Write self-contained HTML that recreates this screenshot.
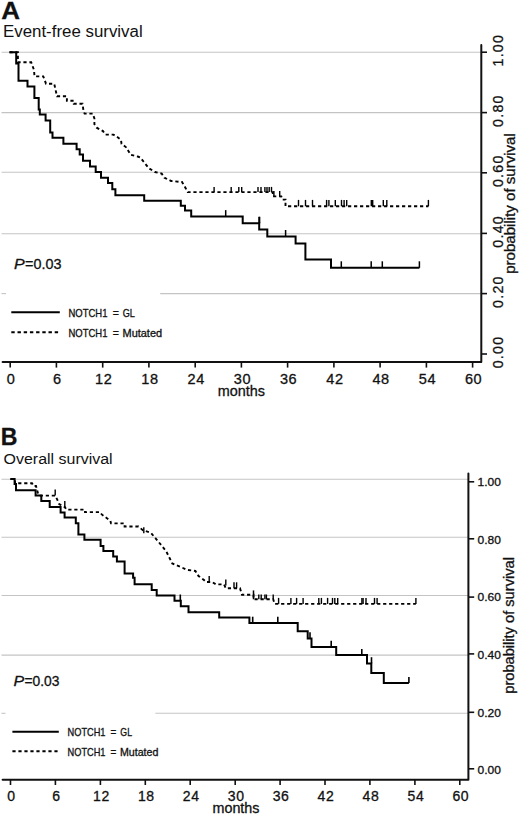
<!DOCTYPE html>
<html><head><meta charset="utf-8"><style>
html,body{margin:0;padding:0;background:#fff;}
svg{display:block;}
text{font-family:"Liberation Sans",sans-serif;fill:#111;stroke:#111;stroke-width:0.3px;}
</style></head><body>
<svg width="520" height="816" viewBox="0 0 520 816">
<text x="1.35" y="18.7" font-size="24.8" textLength="18.76" lengthAdjust="spacingAndGlyphs" font-weight="bold">A</text>
<text x="2.95" y="37.0" font-size="15.8" textLength="139.76" lengthAdjust="spacingAndGlyphs" style="stroke:none">Event-free survival</text>
<line x1="1.5" y1="52.2" x2="481" y2="52.2" stroke="#c4c4c4" stroke-width="1.1"/>
<line x1="1.5" y1="112.6" x2="481" y2="112.6" stroke="#c4c4c4" stroke-width="1.1"/>
<line x1="1.5" y1="172.3" x2="481" y2="172.3" stroke="#c4c4c4" stroke-width="1.1"/>
<line x1="1.5" y1="233.7" x2="481" y2="233.7" stroke="#c4c4c4" stroke-width="1.1"/>
<line x1="1.5" y1="293.6" x2="6" y2="293.6" stroke="#c4c4c4" stroke-width="1.1"/>
<line x1="160.2" y1="293.6" x2="481" y2="293.6" stroke="#c4c4c4" stroke-width="1.1"/>
<path d="M2.6 362 H481.3 V45.1" fill="none" stroke="#111" stroke-width="2" stroke-linejoin="round" stroke-linecap="round"/>
<line x1="10.2" y1="362" x2="10.2" y2="367.6" stroke="#111" stroke-width="1.6"/>
<text x="11.2" y="383.5" font-size="14.5" text-anchor="middle" letter-spacing="0.6">0</text>
<line x1="56.4" y1="362" x2="56.4" y2="367.6" stroke="#111" stroke-width="1.6"/>
<text x="57.4" y="383.5" font-size="14.5" text-anchor="middle" letter-spacing="0.6">6</text>
<line x1="102.7" y1="362" x2="102.7" y2="367.6" stroke="#111" stroke-width="1.6"/>
<text x="103.7" y="383.5" font-size="14.5" text-anchor="middle" letter-spacing="0.6">12</text>
<line x1="148.9" y1="362" x2="148.9" y2="367.6" stroke="#111" stroke-width="1.6"/>
<text x="149.9" y="383.5" font-size="14.5" text-anchor="middle" letter-spacing="0.6">18</text>
<line x1="195.2" y1="362" x2="195.2" y2="367.6" stroke="#111" stroke-width="1.6"/>
<text x="196.2" y="383.5" font-size="14.5" text-anchor="middle" letter-spacing="0.6">24</text>
<line x1="241.4" y1="362" x2="241.4" y2="367.6" stroke="#111" stroke-width="1.6"/>
<text x="242.4" y="383.5" font-size="14.5" text-anchor="middle" letter-spacing="0.6">30</text>
<line x1="287.6" y1="362" x2="287.6" y2="367.6" stroke="#111" stroke-width="1.6"/>
<text x="288.6" y="383.5" font-size="14.5" text-anchor="middle" letter-spacing="0.6">36</text>
<line x1="333.9" y1="362" x2="333.9" y2="367.6" stroke="#111" stroke-width="1.6"/>
<text x="334.9" y="383.5" font-size="14.5" text-anchor="middle" letter-spacing="0.6">42</text>
<line x1="380.1" y1="362" x2="380.1" y2="367.6" stroke="#111" stroke-width="1.6"/>
<text x="381.1" y="383.5" font-size="14.5" text-anchor="middle" letter-spacing="0.6">48</text>
<line x1="426.4" y1="362" x2="426.4" y2="367.6" stroke="#111" stroke-width="1.6"/>
<text x="427.4" y="383.5" font-size="14.5" text-anchor="middle" letter-spacing="0.6">54</text>
<line x1="472.6" y1="362" x2="472.6" y2="367.6" stroke="#111" stroke-width="1.6"/>
<text x="473.6" y="383.5" font-size="14.5" text-anchor="middle" letter-spacing="0.6">60</text>
<text x="241.4" y="396" font-size="14.5" text-anchor="middle" textLength="47.3" lengthAdjust="spacingAndGlyphs">months</text>
<line x1="481.3" y1="52.2" x2="487" y2="52.2" stroke="#111" stroke-width="1.6"/>
<text transform="translate(502.8 66.5) rotate(-90)" font-size="14.2" textLength="31.4" lengthAdjust="spacing">1.00</text>
<line x1="481.3" y1="112.6" x2="487" y2="112.6" stroke="#111" stroke-width="1.6"/>
<text transform="translate(502.8 126.9) rotate(-90)" font-size="14.2" textLength="31.4" lengthAdjust="spacing">0.80</text>
<line x1="481.3" y1="172.8" x2="487" y2="172.8" stroke="#111" stroke-width="1.6"/>
<text transform="translate(502.8 187.1) rotate(-90)" font-size="14.2" textLength="31.4" lengthAdjust="spacing">0.60</text>
<line x1="481.3" y1="233.4" x2="487" y2="233.4" stroke="#111" stroke-width="1.6"/>
<text transform="translate(502.8 247.7) rotate(-90)" font-size="14.2" textLength="31.4" lengthAdjust="spacing">0.40</text>
<line x1="481.3" y1="293.6" x2="487" y2="293.6" stroke="#111" stroke-width="1.6"/>
<text transform="translate(502.8 307.9) rotate(-90)" font-size="14.2" textLength="31.4" lengthAdjust="spacing">0.20</text>
<line x1="481.3" y1="354" x2="487" y2="354" stroke="#111" stroke-width="1.6"/>
<text transform="translate(502.8 368.3) rotate(-90)" font-size="14.2" textLength="31.4" lengthAdjust="spacing">0.00</text>
<text transform="translate(515 203.5) rotate(-90)" font-size="14" text-anchor="middle" textLength="140.6" lengthAdjust="spacingAndGlyphs">probability of survival</text>
<text x="14.12" y="268.8" font-size="14.1" textLength="10.69" lengthAdjust="spacingAndGlyphs" font-style="italic">P</text>
<text x="25.08" y="268.8" font-size="14.1" textLength="36.37" lengthAdjust="spacingAndGlyphs" >=0.03</text>
<line x1="11.3" y1="312.3" x2="59.8" y2="312.3" stroke="#000" stroke-width="2"/>
<line x1="11.3" y1="332.2" x2="59.8" y2="332.2" stroke="#000" stroke-width="2" stroke-dasharray="3.4 2.8"/>
<text x="68.54" y="317.1" font-size="10.2" textLength="38.94" lengthAdjust="spacingAndGlyphs" >NOTCH1</text>
<text x="112.67" y="317.1" font-size="10.2" textLength="6.14" lengthAdjust="spacingAndGlyphs" >=</text>
<text x="68.54" y="337.0" font-size="10.2" textLength="38.94" lengthAdjust="spacingAndGlyphs" >NOTCH1</text>
<text x="112.67" y="337.0" font-size="10.2" textLength="6.14" lengthAdjust="spacingAndGlyphs" >=</text>
<text x="122.64" y="317.1" font-size="10.2" textLength="12.17" lengthAdjust="spacingAndGlyphs" >GL</text>
<text x="122.52" y="337.0" font-size="10.2" textLength="39.57" lengthAdjust="spacingAndGlyphs" >Mutated</text>
<polyline points="9.5,52.2 16.2,52.2 16.2,63.5 18.5,63.5 18.5,80.8 27.5,80.8 27.5,86.6 34.4,86.6 34.4,97.9 38.7,97.9 38.7,109.4 39.8,109.4 39.8,114.6 45.6,114.6 45.6,120.4 50.2,120.4 50.2,132.5 52.5,132.5 52.5,137.7 63.4,137.7 63.4,143.8 76.6,143.8 76.6,149.2 79.7,149.2 79.7,154.6 83.0,154.6 83.0,160.8 90.0,160.8 90.0,166.5 95.7,166.5 95.7,172.0 101.0,172.0 101.0,177.7 108.0,177.7 108.0,183.0 112.3,183.0 112.3,189.2 115.4,189.2 115.4,195.2 144.2,195.2 144.2,200.8 180.8,200.8 180.8,205.8 185.0,205.8 185.0,210.5 191.2,210.5 191.2,216.6 242.7,216.6 242.7,223.3 259.2,223.3 259.2,229.5 267.3,229.5 267.3,236.5 295.6,236.5 295.6,243.5 305.4,243.5 305.4,259.5 331.0,259.5 331.0,267.8 419.4,267.8" fill="none" stroke="#000" stroke-width="2"/>
<line x1="225.7" y1="216.6" x2="225.7" y2="210.1" stroke="#000" stroke-width="1.5"/>
<line x1="259.0" y1="223.3" x2="259.0" y2="216.8" stroke="#000" stroke-width="1.5"/>
<line x1="259.6" y1="223.3" x2="259.6" y2="216.8" stroke="#000" stroke-width="1.5"/>
<line x1="285.6" y1="236.5" x2="285.6" y2="230.0" stroke="#000" stroke-width="1.5"/>
<line x1="341.3" y1="267.8" x2="341.3" y2="261.3" stroke="#000" stroke-width="1.5"/>
<line x1="371.2" y1="267.8" x2="371.2" y2="261.3" stroke="#000" stroke-width="1.5"/>
<line x1="382.3" y1="267.8" x2="382.3" y2="261.3" stroke="#000" stroke-width="1.5"/>
<line x1="419.4" y1="267.8" x2="419.4" y2="261.3" stroke="#000" stroke-width="1.5"/>
<polyline points="9.5,52.2 17.9,52.2 17.9,62.3 31.2,62.3 34.0,70.0 34.5,76.4 43.3,76.4 46.0,83.7 54.2,83.7 57.0,96.3 66.9,96.3 66.9,100.8 73.8,100.8 73.8,103.7 82.5,103.7 83.5,111.0 84.6,113.6 92.7,113.6 94.4,118.5 94.4,124.2 96.7,127.7 103.0,131.1 105.4,134.6 113.4,134.6 118.0,137.5 121.0,139.8 121.5,143.8 126.1,147.3 129.0,151.9 130.7,154.8 137.7,156.5 140.2,157.5 148.9,168.3 155.0,172.0 161.7,173.6 164.4,177.7 171.1,181.0 182.0,182.0 185.4,187.7 187.7,192.1 272.8,192.1 272.8,196.4 281.3,196.4 282.3,199.6 285.5,199.6 285.5,206.3 428.4,206.3" fill="none" stroke="#000" stroke-width="1.9" stroke-dasharray="3.2 2.8"/>
<line x1="214.1" y1="192.1" x2="214.1" y2="186.9" stroke="#000" stroke-width="1.4"/>
<line x1="231.2" y1="192.1" x2="231.2" y2="186.9" stroke="#000" stroke-width="1.4"/>
<line x1="238.8" y1="192.1" x2="238.8" y2="186.9" stroke="#000" stroke-width="1.4"/>
<line x1="241.7" y1="192.1" x2="241.7" y2="186.9" stroke="#000" stroke-width="1.4"/>
<line x1="258" y1="192.1" x2="258" y2="186.9" stroke="#000" stroke-width="1.4"/>
<line x1="261" y1="192.1" x2="261" y2="186.9" stroke="#000" stroke-width="1.4"/>
<line x1="264.9" y1="192.1" x2="264.9" y2="186.9" stroke="#000" stroke-width="1.4"/>
<line x1="267" y1="192.1" x2="267" y2="186.9" stroke="#000" stroke-width="1.4"/>
<line x1="269.2" y1="192.1" x2="269.2" y2="186.9" stroke="#000" stroke-width="1.4"/>
<line x1="271.5" y1="192.1" x2="271.5" y2="186.9" stroke="#000" stroke-width="1.4"/>
<line x1="273.9" y1="196.4" x2="273.9" y2="191.0" stroke="#000" stroke-width="1.4"/>
<line x1="279.7" y1="196.4" x2="279.7" y2="191.0" stroke="#000" stroke-width="1.4"/>
<line x1="298.5" y1="206.3" x2="298.5" y2="199.9" stroke="#000" stroke-width="1.4"/>
<line x1="305.5" y1="206.3" x2="305.5" y2="199.9" stroke="#000" stroke-width="1.4"/>
<line x1="312.5" y1="206.3" x2="312.5" y2="199.9" stroke="#000" stroke-width="1.4"/>
<line x1="326.6" y1="206.3" x2="326.6" y2="199.9" stroke="#000" stroke-width="1.4"/>
<line x1="328.9" y1="206.3" x2="328.9" y2="199.9" stroke="#000" stroke-width="1.4"/>
<line x1="335.3" y1="206.3" x2="335.3" y2="199.9" stroke="#000" stroke-width="1.4"/>
<line x1="341.5" y1="206.3" x2="341.5" y2="199.9" stroke="#000" stroke-width="1.4"/>
<line x1="344.1" y1="206.3" x2="344.1" y2="199.9" stroke="#000" stroke-width="1.4"/>
<line x1="346.7" y1="206.3" x2="346.7" y2="199.9" stroke="#000" stroke-width="1.4"/>
<line x1="371.3" y1="206.3" x2="371.3" y2="199.9" stroke="#000" stroke-width="1.4"/>
<line x1="372.7" y1="206.3" x2="372.7" y2="199.9" stroke="#000" stroke-width="1.4"/>
<line x1="383.3" y1="206.3" x2="383.3" y2="199.9" stroke="#000" stroke-width="1.4"/>
<line x1="386.8" y1="206.3" x2="386.8" y2="199.9" stroke="#000" stroke-width="1.4"/>
<line x1="428.4" y1="206.3" x2="428.4" y2="199.9" stroke="#000" stroke-width="1.4"/>
<text x="0.80" y="444.7" font-size="23.6" textLength="16.69" lengthAdjust="spacingAndGlyphs" font-weight="bold">B</text>
<text x="3.58" y="464.1" font-size="15.2" textLength="109.06" lengthAdjust="spacingAndGlyphs" style="stroke:none">Overall survival</text>
<line x1="1.5" y1="479.2" x2="468" y2="479.2" stroke="#c4c4c4" stroke-width="1.1"/>
<line x1="1.5" y1="537.2" x2="468" y2="537.2" stroke="#c4c4c4" stroke-width="1.1"/>
<line x1="1.5" y1="595.5" x2="468" y2="595.5" stroke="#c4c4c4" stroke-width="1.1"/>
<line x1="1.5" y1="655.1" x2="468" y2="655.1" stroke="#c4c4c4" stroke-width="1.1"/>
<line x1="1.5" y1="713.3" x2="5.5" y2="713.3" stroke="#c4c4c4" stroke-width="1.1"/>
<line x1="155.4" y1="713.3" x2="468" y2="713.3" stroke="#c4c4c4" stroke-width="1.1"/>
<path d="M2.6 779.8 H468.4 V473.6" fill="none" stroke="#111" stroke-width="2" stroke-linejoin="round" stroke-linecap="round"/>
<line x1="10.5" y1="779.8" x2="10.5" y2="785" stroke="#111" stroke-width="1.6"/>
<text x="11.5" y="800.9" font-size="14" text-anchor="middle" letter-spacing="0.6">0</text>
<line x1="55.4" y1="779.8" x2="55.4" y2="785" stroke="#111" stroke-width="1.6"/>
<text x="56.4" y="800.9" font-size="14" text-anchor="middle" letter-spacing="0.6">6</text>
<line x1="100.4" y1="779.8" x2="100.4" y2="785" stroke="#111" stroke-width="1.6"/>
<text x="101.4" y="800.9" font-size="14" text-anchor="middle" letter-spacing="0.6">12</text>
<line x1="145.3" y1="779.8" x2="145.3" y2="785" stroke="#111" stroke-width="1.6"/>
<text x="146.3" y="800.9" font-size="14" text-anchor="middle" letter-spacing="0.6">18</text>
<line x1="190.2" y1="779.8" x2="190.2" y2="785" stroke="#111" stroke-width="1.6"/>
<text x="191.2" y="800.9" font-size="14" text-anchor="middle" letter-spacing="0.6">24</text>
<line x1="235.2" y1="779.8" x2="235.2" y2="785" stroke="#111" stroke-width="1.6"/>
<text x="236.2" y="800.9" font-size="14" text-anchor="middle" letter-spacing="0.6">30</text>
<line x1="280.1" y1="779.8" x2="280.1" y2="785" stroke="#111" stroke-width="1.6"/>
<text x="281.1" y="800.9" font-size="14" text-anchor="middle" letter-spacing="0.6">36</text>
<line x1="325.0" y1="779.8" x2="325.0" y2="785" stroke="#111" stroke-width="1.6"/>
<text x="326.0" y="800.9" font-size="14" text-anchor="middle" letter-spacing="0.6">42</text>
<line x1="369.9" y1="779.8" x2="369.9" y2="785" stroke="#111" stroke-width="1.6"/>
<text x="370.9" y="800.9" font-size="14" text-anchor="middle" letter-spacing="0.6">48</text>
<line x1="414.9" y1="779.8" x2="414.9" y2="785" stroke="#111" stroke-width="1.6"/>
<text x="415.9" y="800.9" font-size="14" text-anchor="middle" letter-spacing="0.6">54</text>
<line x1="459.8" y1="779.8" x2="459.8" y2="785" stroke="#111" stroke-width="1.6"/>
<text x="460.8" y="800.9" font-size="14" text-anchor="middle" letter-spacing="0.6">60</text>
<text x="236" y="813" font-size="14" text-anchor="middle" textLength="47" lengthAdjust="spacingAndGlyphs">months</text>
<line x1="468.4" y1="481.8" x2="474.2" y2="481.8" stroke="#111" stroke-width="1.6"/>
<text x="477.6" y="485.6" font-size="11.2" textLength="23.4" lengthAdjust="spacingAndGlyphs">1.00</text>
<line x1="468.4" y1="538.8" x2="474.2" y2="538.8" stroke="#111" stroke-width="1.6"/>
<text x="477.6" y="544.1" font-size="11.2" textLength="23.4" lengthAdjust="spacingAndGlyphs">0.80</text>
<line x1="468.4" y1="597.1" x2="474.2" y2="597.1" stroke="#111" stroke-width="1.6"/>
<text x="477.6" y="601.1" font-size="11.2" textLength="23.4" lengthAdjust="spacingAndGlyphs">0.60</text>
<line x1="468.4" y1="653.9" x2="474.2" y2="653.9" stroke="#111" stroke-width="1.6"/>
<text x="477.6" y="659.3" font-size="11.2" textLength="23.4" lengthAdjust="spacingAndGlyphs">0.40</text>
<line x1="468.4" y1="712.3" x2="474.2" y2="712.3" stroke="#111" stroke-width="1.6"/>
<text x="477.6" y="716.5" font-size="11.2" textLength="23.4" lengthAdjust="spacingAndGlyphs">0.20</text>
<line x1="468.4" y1="768.8" x2="474.2" y2="768.8" stroke="#111" stroke-width="1.6"/>
<text x="477.6" y="773.6" font-size="11.2" textLength="23.4" lengthAdjust="spacingAndGlyphs">0.00</text>
<text transform="translate(514.3 625.4) rotate(-90)" font-size="14" text-anchor="middle" textLength="136.6" lengthAdjust="spacingAndGlyphs">probability of survival</text>
<text x="13.42" y="685.5" font-size="14.2" textLength="10.69" lengthAdjust="spacingAndGlyphs" font-style="italic">P</text>
<text x="24.41" y="685.5" font-size="14.2" textLength="34.92" lengthAdjust="spacingAndGlyphs" >=0.03</text>
<line x1="12.4" y1="731.7" x2="58.8" y2="731.7" stroke="#000" stroke-width="2"/>
<line x1="12.4" y1="751.3" x2="58.8" y2="751.3" stroke="#000" stroke-width="2" stroke-dasharray="3.2 2.8"/>
<text x="67.56" y="736.2" font-size="10.2" textLength="37.91" lengthAdjust="spacingAndGlyphs" >NOTCH1</text>
<text x="110.51" y="736.2" font-size="10.2" textLength="5.78" lengthAdjust="spacingAndGlyphs" >=</text>
<text x="67.56" y="755.7" font-size="10.2" textLength="37.91" lengthAdjust="spacingAndGlyphs" >NOTCH1</text>
<text x="110.51" y="755.7" font-size="10.2" textLength="5.78" lengthAdjust="spacingAndGlyphs" >=</text>
<text x="120.36" y="736.2" font-size="10.2" textLength="11.63" lengthAdjust="spacingAndGlyphs" >GL</text>
<text x="119.95" y="755.7" font-size="10.2" textLength="38.42" lengthAdjust="spacingAndGlyphs" >Mutated</text>
<polyline points="10.4,479.1 14.6,479.1 14.6,484.0 16.0,484.0 16.0,490.2 35.6,490.2 35.6,495.4 41.3,495.4 41.3,500.9 49.7,500.9 49.7,506.9 60.6,506.9 60.6,512.4 64.6,512.4 64.6,517.6 75.8,517.6 75.8,523.3 78.4,523.3 78.4,534.4 84.4,534.4 84.4,539.8 100.6,539.8 100.6,545.9 103.4,545.9 103.4,550.9 113.2,550.9 113.2,556.6 116.9,556.6 116.9,561.5 124.6,561.5 124.6,573.5 133.1,573.5 133.1,577.7 134.6,577.7 134.6,584.3 151.7,584.3 151.7,590.1 156.7,590.1 156.7,595.5 174.5,595.5 174.5,600.7 180.8,600.7 180.8,606.2 188.5,606.2 188.5,612.2 219.2,612.2 219.2,617.4 249.4,617.4 249.4,622.9 297.7,622.9 297.7,631.2 307.7,631.2 307.7,638.5 311.5,638.5 311.5,646.9 336.2,646.9 336.2,655.1 367.0,655.1 367.0,663.4 371.3,663.4 371.3,673.1 383.8,673.1 383.8,683.1 408.9,683.1" fill="none" stroke="#000" stroke-width="2"/>
<line x1="180.3" y1="600.7" x2="180.3" y2="594.5" stroke="#000" stroke-width="1.6"/>
<line x1="252.7" y1="622.9" x2="252.7" y2="616.6999999999999" stroke="#000" stroke-width="1.6"/>
<line x1="277.8" y1="622.9" x2="277.8" y2="616.6999999999999" stroke="#000" stroke-width="1.6"/>
<line x1="310" y1="638.5" x2="310" y2="632.3" stroke="#000" stroke-width="1.6"/>
<line x1="331.2" y1="646.9" x2="331.2" y2="640.6999999999999" stroke="#000" stroke-width="1.6"/>
<line x1="361.8" y1="655.1" x2="361.8" y2="648.9" stroke="#000" stroke-width="1.6"/>
<line x1="371.5" y1="663.4" x2="371.5" y2="657.1999999999999" stroke="#000" stroke-width="1.6"/>
<line x1="408.9" y1="683.1" x2="408.9" y2="676.9" stroke="#000" stroke-width="1.6"/>
<polyline points="10.4,479.1 15.0,479.1 15.0,483.3 32.0,483.3 33.5,486.0 36.0,486.0 38.2,494.1 39.6,495.6 55.2,495.6 57.4,499.9 59.3,504.2 64.8,507.1 66.5,509.6 85.0,509.6 85.0,512.1 100.0,512.1 101.7,514.4 110.4,520.8 111.0,523.4 124.6,523.4 124.6,526.5 138.5,526.5 143.1,530.4 150.8,532.7 155.4,538.1 166.2,551.2 172.3,563.5 181.5,567.3 186.9,569.8 195.4,571.0 198.5,576.0 204.0,580.0 206.0,582.0 212.0,582.0 216.0,584.4 224.0,584.4 225.8,588.3 240.0,588.3 242.0,594.8 253.5,594.8 253.5,599.3 273.2,599.3 274.6,603.9 415.9,603.9" fill="none" stroke="#000" stroke-width="1.9" stroke-dasharray="3.2 2.8"/>
<line x1="55.2" y1="495.6" x2="55.2" y2="489.6" stroke="#000" stroke-width="1.4"/>
<line x1="64.8" y1="507.1" x2="64.8" y2="501.1" stroke="#000" stroke-width="1.4"/>
<line x1="143.8" y1="533.2" x2="143.8" y2="527.2" stroke="#000" stroke-width="1.4"/>
<line x1="209.2" y1="582" x2="209.2" y2="576" stroke="#000" stroke-width="1.4"/>
<line x1="225.8" y1="585.4" x2="225.8" y2="579.4" stroke="#000" stroke-width="1.4"/>
<line x1="234" y1="588.3" x2="234" y2="582.3" stroke="#000" stroke-width="1.4"/>
<line x1="236.6" y1="588.3" x2="236.6" y2="582.3" stroke="#000" stroke-width="1.4"/>
<line x1="253.5" y1="599.3" x2="253.5" y2="590.4" stroke="#000" stroke-width="1.5"/>
<line x1="258.8" y1="599.3" x2="258.8" y2="594.5" stroke="#000" stroke-width="1.4"/>
<line x1="261.2" y1="599.3" x2="261.2" y2="594.5" stroke="#000" stroke-width="1.4"/>
<line x1="264.9" y1="599.3" x2="264.9" y2="594.5" stroke="#000" stroke-width="1.4"/>
<line x1="266.4" y1="599.3" x2="266.4" y2="594.5" stroke="#000" stroke-width="1.4"/>
<line x1="273.2" y1="599.3" x2="273.2" y2="594.5" stroke="#000" stroke-width="1.4"/>
<line x1="278.6" y1="603.9" x2="278.6" y2="597.9" stroke="#000" stroke-width="1.4"/>
<line x1="290.9" y1="603.9" x2="290.9" y2="597.9" stroke="#000" stroke-width="1.4"/>
<line x1="296.6" y1="603.9" x2="296.6" y2="597.9" stroke="#000" stroke-width="1.4"/>
<line x1="303.1" y1="603.9" x2="303.1" y2="597.9" stroke="#000" stroke-width="1.4"/>
<line x1="318.8" y1="603.9" x2="318.8" y2="597.9" stroke="#000" stroke-width="1.4"/>
<line x1="321.4" y1="603.9" x2="321.4" y2="597.9" stroke="#000" stroke-width="1.4"/>
<line x1="327.6" y1="603.9" x2="327.6" y2="597.9" stroke="#000" stroke-width="1.4"/>
<line x1="332.5" y1="603.9" x2="332.5" y2="597.9" stroke="#000" stroke-width="1.4"/>
<line x1="334.8" y1="603.9" x2="334.8" y2="597.9" stroke="#000" stroke-width="1.4"/>
<line x1="337.7" y1="603.9" x2="337.7" y2="597.9" stroke="#000" stroke-width="1.4"/>
<line x1="361.9" y1="603.9" x2="361.9" y2="597.9" stroke="#000" stroke-width="1.4"/>
<line x1="363.1" y1="603.9" x2="363.1" y2="597.9" stroke="#000" stroke-width="1.4"/>
<line x1="366" y1="603.9" x2="366" y2="597.9" stroke="#000" stroke-width="1.4"/>
<line x1="374.5" y1="603.9" x2="374.5" y2="597.9" stroke="#000" stroke-width="1.4"/>
<line x1="377.1" y1="603.9" x2="377.1" y2="597.9" stroke="#000" stroke-width="1.4"/>
<line x1="415.9" y1="603.9" x2="415.9" y2="597.9" stroke="#000" stroke-width="1.4"/>
</svg>
</body></html>
